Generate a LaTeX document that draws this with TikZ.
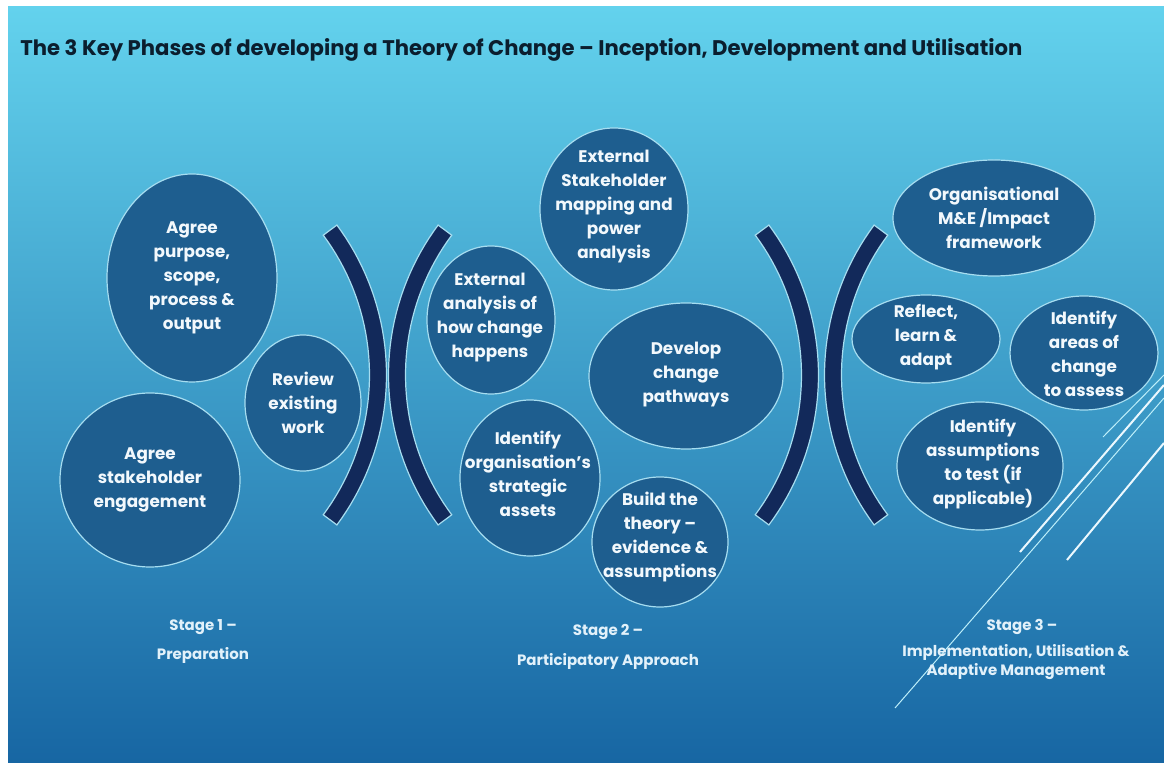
\documentclass[tikz,border=0pt]{standalone}
\usepackage{fontspec}
\usepackage{graphicx}
\setmainfont{Poppins}
\definecolor{bgtop}{HTML}{63D2ED}
\definecolor{bgmid}{HTML}{2E9DCF}
\definecolor{bgbot}{HTML}{1766A3}
\definecolor{ellfill}{HTML}{1E5E8F}
\definecolor{ellline}{HTML}{A6DDF0}
\definecolor{arcfill}{HTML}{12295A}
\definecolor{titlecol}{HTML}{0B1E2E}
\definecolor{txtcol}{HTML}{F2F8FC}
\definecolor{stagecol}{HTML}{E2F1FA}
\definecolor{decolight}{HTML}{BDEFFA}
\begin{document}
\begin{tikzpicture}[x=0.5pt,y=-0.5pt,
  bubble/.style={fill=ellfill, draw=ellline, line width=0.6pt},
  btext/.style={text=txtcol, font=\bfseries\fontsize{8.4}{12}\selectfont, align=center, inner sep=0pt},
  stagetext/.style={text=stagecol, font=\bfseries\fontsize{7.5}{9.5}\selectfont, align=center, inner sep=0pt},
  bracket/.style={fill=arcfill, draw=ellline, line width=0.6pt},
  thinline/.style={draw=decolight, line width=0.5pt},
  thickline/.style={draw=white!92!cyan, line width=1pt}
]
\fill[white] (0,0) rectangle (1164,763);
\useasboundingbox (0,0) rectangle (1164,763);
\shade[top color=bgtop, middle color=bgmid, bottom color=bgbot] (8,7) rectangle (1164,763);

% title
\node[anchor=west, inner sep=0pt, text=titlecol] (title) at (20,50)
  {\resizebox{501pt}{!}{\bfseries The 3 Key Phases of developing a Theory of Change – Inception, Development and Utilisation}};

% decorative lines
\coordinate (d1a) at (1103,437); \coordinate (d1b) at (1164,375);
\coordinate (d2a) at (1020,552); \coordinate (d2b) at (1164,385);
\coordinate (d3a) at (895,708); \coordinate (d3b) at (1164,398);
\coordinate (d4a) at (1067,560); \coordinate (d4b) at (1164,443);
\draw[thinline] (d1a) -- (d1b);
\draw[thickline] (d2a) -- (d2b);
\draw[thinline] (d3a) -- (d3b);
\draw[thickline] (d4a) -- (d4b);

% brackets  R=243, half angle 36.6, half thickness 8.5
\path[bracket] plot[domain=-36.6:36.6, samples=40] ({378-243+251.5*cos(\x)}, {375+251.5*sin(\x)})
  -- plot[domain=36.6:-36.6, samples=40] ({378-243+234.5*cos(\x)}, {375+234.5*sin(\x)}) -- cycle;
\path[bracket] plot[domain=-36.6:36.6, samples=40] ({397+243-251.5*cos(\x)}, {375+251.5*sin(\x)})
  -- plot[domain=36.6:-36.6, samples=40] ({397+243-234.5*cos(\x)}, {375+234.5*sin(\x)}) -- cycle;
\path[bracket] plot[domain=-36.6:36.6, samples=40] ({810-243+251.5*cos(\x)}, {375+251.5*sin(\x)})
  -- plot[domain=36.6:-36.6, samples=40] ({810-243+234.5*cos(\x)}, {375+234.5*sin(\x)}) -- cycle;
\path[bracket] plot[domain=-36.6:36.6, samples=40] ({833+243-251.5*cos(\x)}, {375+251.5*sin(\x)})
  -- plot[domain=36.6:-36.6, samples=40] ({833+243-234.5*cos(\x)}, {375+234.5*sin(\x)}) -- cycle;

% stage 1
\draw[bubble] (192,278) ellipse [x radius=42.5pt, y radius=52pt];
\node[btext] (a1) at (192,278) {Agree\\purpose,\\scope,\\process \&\\output};
\draw[bubble] (303,403) ellipse [x radius=29pt, y radius=34pt];
\node[btext] (a2) at (303,403) {Review\\existing\\work};
\draw[bubble] (150,480) ellipse [x radius=45pt, y radius=43.5pt];
\node[btext] (a3) at (150,480) {Agree\\stakeholder\\engagement};

% stage 2
\draw[bubble] (614,209) ellipse [x radius=37pt, y radius=40.5pt];
\node[btext] (b1) at (614,207) {External\\Stakeholder\\mapping and\\power\\analysis};
\draw[bubble] (491,320) ellipse [x radius=32pt, y radius=37pt];
\node[btext] (b2) at (490,318) {External\\analysis of\\how change\\happens};
\draw[bubble] (686,376) ellipse [x radius=48.5pt, y radius=36.5pt];
\node[btext] (b3) at (686,375) {Develop\\change\\pathways};
\draw[bubble] (530,478) ellipse [x radius=35pt, y radius=39pt];
\node[btext] (b4) at (528,474) {Identify\\organisation's\\strategic\\assets};
\draw[bubble] (660,542) ellipse [x radius=34pt, y radius=32.5pt];
\node[btext] (b5) at (660,537) {Build the\\theory –\\evidence \&\\assumptions};

% stage 3
\draw[bubble] (994,218) ellipse [x radius=50.5pt, y radius=29pt];
\node[btext] (c1) at (994,218) {Organisational\\M\&E /Impact\\framework};
\draw[bubble] (926,339) ellipse [x radius=37pt, y radius=22pt];
\node[btext] (c2) at (926,337) {Reflect,\\learn \&\\adapt};
\draw[bubble] (1084,353) ellipse [x radius=37pt, y radius=28.5pt];
\node[btext] (c3) at (1084,354) {Identify\\areas of\\change\\to assess};
\draw[bubble] (980,466) ellipse [x radius=41.5pt, y radius=32pt];
\node[btext] (c4) at (983,464) {Identify\\assumptions\\to test (if\\applicable)};

% stage labels
\node[stagetext, font=\bfseries\fontsize{7.5}{14.5}\selectfont] (s1) at (203,642) {Stage 1 –\\Preparation};
\node[stagetext, font=\bfseries\fontsize{7.5}{15}\selectfont] (s2) at (608,647) {Stage 2 –\\Participatory Approach};
\node[stagetext] (s3a) at (1022,627) {Stage 3 –};
\node[stagetext] (s3b) at (1016,662) {Implementation, Utilisation \&\\Adaptive Management};
\end{tikzpicture}
\end{document}
